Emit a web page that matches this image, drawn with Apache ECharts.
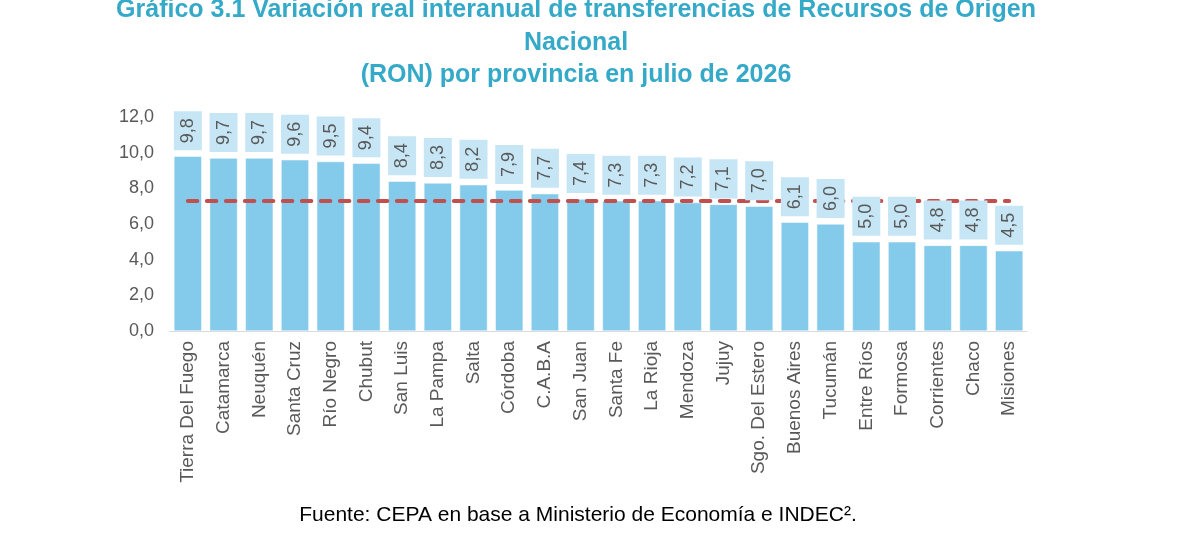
<!DOCTYPE html>
<html lang="es">
<head>
    <meta charset="UTF-8">
    <title>Gráfico 3.1</title>
    <script src="https://cdn.jsdelivr.net/npm/echarts@6/dist/echarts.min.js"></script>
    <style>
        html, body { margin: 0; padding: 0; background: #fff; }
        #container { width: 1200px; height: 544px; }
    </style>
</head>
<body>
<div id="container"></div>

<script type="text/javascript">
    // datos
    var provincias = ['Tierra Del Fuego', 'Catamarca', 'Neuquén', 'Santa Cruz', 'Río Negro', 'Chubut',
        'San Luis', 'La Pampa', 'Salta', 'Córdoba', 'C.A.B.A', 'San Juan', 'Santa Fe', 'La Rioja',
        'Mendoza', 'Jujuy', 'Sgo. Del Estero', 'Buenos Aires', 'Tucumán', 'Entre Ríos', 'Formosa',
        'Corrientes', 'Chaco', 'Misiones'];
    var variacion = [9.8, 9.7, 9.7, 9.6, 9.5, 9.4, 8.4, 8.3, 8.2, 7.9, 7.7, 7.4, 7.3, 7.3, 7.2, 7.1,
        7.0, 6.1, 6.0, 5.0, 5.0, 4.8, 4.8, 4.5];
    var promedio = 7.3;
    var yTicks = [0, 2, 4, 6, 8, 10, 12];

    var titulo = 'Gráfico 3.1 Variación real interanual de transferencias de Recursos de Origen\nNacional\n(RON) por provincia en julio de 2026';
    var fuente = 'Fuente: CEPA en base a Ministerio de Economía e INDEC²';

    function coma(v) {
        return Number(v).toFixed(1).replace('.', ',');
    }

    var myChart = echarts.init(document.getElementById('container'), null, {renderer: 'canvas'});

    var option = {
        animation: false,
        textStyle: {fontFamily: 'Liberation Sans, Arial, sans-serif'},
        title: [
            {
                text: titulo,
                left: 576,
                top: -6,
                padding: 0,
                textAlign: 'center',
                textStyle: {
                    color: '#35a9c8',
                    fontSize: 25,
                    fontWeight: 'bold',
                    lineHeight: 32.5,
                    fontFamily: 'Liberation Sans, Arial, sans-serif'
                }
            },
            {
                text: fuente + '.',
                left: 578,
                top: 505,
                padding: 0,
                textAlign: 'center',
                textStyle: {
                    color: '#000',
                    fontSize: 21,
                    fontWeight: 'normal',
                    fontFamily: 'Liberation Sans, Arial, sans-serif'
                }
            }
        ],
        grid: {left: 170, right: 173, top: 117, bottom: 213},
        xAxis: {
            type: 'category',
            data: provincias,
            axisTick: {show: false},
            axisLine: {lineStyle: {color: '#d9d9d9', width: 1}},
            axisLabel: {
                rotate: 90,
                interval: 0,
                margin: 10,
                color: '#595959',
                fontSize: 19
            }
        },
        yAxis: {
            type: 'value',
            min: yTicks[0],
            max: yTicks[yTicks.length - 1],
            interval: 2,
            splitLine: {show: false},
            axisLine: {show: false},
            axisTick: {show: false},
            axisLabel: {
                margin: 16,
                color: '#595959',
                fontSize: 18,
                formatter: coma
            }
        },
        series: [
            {
                // barras
                type: 'bar',
                z: 2,
                data: variacion,
                barWidth: '78%',
                itemStyle: {color: '#84caeb', borderColor: '#ffffff', borderWidth: 0.5},
                markLine: {
                    silent: true,
                    z: 5,
                    symbol: 'none',
                    label: {show: false},
                    lineStyle: {color: '#c0504d', width: 4, type: [9.5, 9.5], cap: 'round'},
                    data: [[{coord: [0, promedio]}, {coord: [provincias.length - 1, promedio]}]]
                }
            },
            {
                // etiquetas por encima de la linea punteada
                type: 'bar',
                z: 10,
                data: variacion,
                barWidth: '78%',
                barGap: '-100%',
                silent: true,
                itemStyle: {color: 'rgba(0,0,0,0)'},
                label: {
                    show: true,
                    position: 'top',
                    distance: 6,
                    rotate: 90,
                    align: 'left',
                    verticalAlign: 'middle',
                    color: '#595959',
                    fontSize: 18,
                    backgroundColor: '#c6e6f6',
                    padding: [5, 7, 5, 7],
                    formatter: function (p) { return coma(p.value); }
                }
            }
        ]
    };

    myChart.setOption(option);
    window.addEventListener('resize', myChart.resize);
</script>
</body>
</html>
